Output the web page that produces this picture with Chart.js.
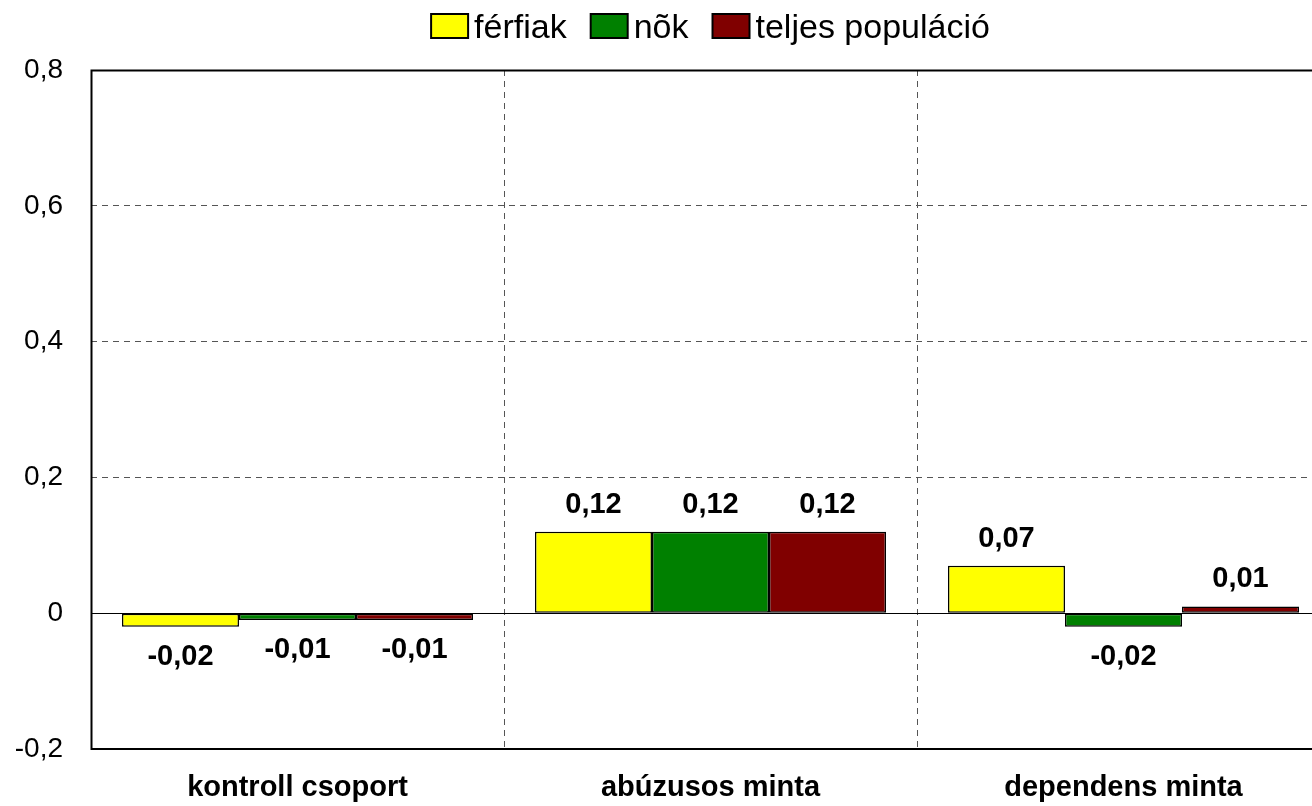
<!DOCTYPE html>
<html>
<head>
<meta charset="utf-8">
<script src="https://cdn.jsdelivr.net/npm/chart.js@4/dist/chart.umd.min.js"></script>
<style>
html,body{margin:0;padding:0;background:#fff;overflow:hidden;}
#wrap{position:absolute;left:0;top:0;width:1330px;height:806px;}
</style>
</head>
<body>
<div id="wrap"><canvas id="c"></canvas></div>
<script>
const categories = ['kontroll csoport', 'abúzusos minta', 'dependens minta'];
const seriesNames = ['férfiak', 'nõk', 'teljes populáció'];
const ferfiak = [-0.02, 0.12, 0.07];
const nok = [-0.01, 0.12, -0.02];
const teljes = [-0.01, 0.12, 0.01];
const yTicks = [-0.2, 0, 0.2, 0.4, 0.6, 0.8];
const colors = ['#FFFF00', '#008000', '#800000'];

const FONT = '"Liberation Sans", Arial, sans-serif';
const fmt = v => {
  const r = Math.round(v * 100) / 100;
  if (r === 0) return '0';
  const s = Math.round(Math.abs(r) * 100) % 10 === 0 ? r.toFixed(1) : r.toFixed(2);
  return s.replace('.', ',');
};

const frameAndLabels = {
  id: 'frameAndLabels',
  beforeDatasetsDraw(chart) {
    const {ctx, chartArea: a, scales: {y}} = chart;
    ctx.save();
    ctx.strokeStyle = '#000';
    ctx.setLineDash([]);
    ctx.lineWidth = 1.2;
    const z = Math.round(y.getPixelForValue(0)) + 0.5;
    ctx.beginPath(); ctx.moveTo(a.left, z); ctx.lineTo(a.right, z); ctx.stroke();
    ctx.restore();
  },
  afterDatasetsDraw(chart) {
    const {ctx, chartArea: a} = chart;
    ctx.save();
    ctx.font = 'bold 29px ' + FONT;
    ctx.fillStyle = '#000';
    ctx.textAlign = 'center';
    ctx.textBaseline = 'alphabetic';
    chart.data.datasets.forEach((ds, i) => {
      const meta = chart.getDatasetMeta(i);
      meta.data.forEach((el, j) => {
        const v = ds.data[j];
        const yy = v >= 0 ? el.y - 19 : el.y + 38;
        ctx.fillText(fmt(v), el.x, yy);
      });
    });
    ctx.strokeStyle = '#000';
    ctx.lineWidth = 2;
    ctx.beginPath();
    ctx.moveTo(a.right, a.top + 0.5);
    ctx.lineTo(a.left + 0.5, a.top + 0.5);
    ctx.lineTo(a.left + 0.5, a.bottom);
    ctx.lineTo(a.right, a.bottom);
    ctx.stroke();
    ctx.restore();
  }
};

const customLegend = {
  id: 'customLegend',
  afterDraw(chart) {
    const {ctx, chartArea: a} = chart;
    ctx.save();
    ctx.font = '34px ' + FONT;
    const boxW = 37, boxH = 24, gap = 6, spacing = 24;
    const items = chart.data.datasets.map(ds => ({
      text: ds.label, color: ds.backgroundColor, w: ctx.measureText(ds.label).width
    }));
    const total = items.reduce((s, it) => s + boxW + gap + it.w, 0) + spacing * (items.length - 1);
    let x = (a.left + a.right) / 2 - total / 2;
    items.forEach(it => {
      ctx.fillStyle = it.color;
      ctx.fillRect(x, 14, boxW, boxH);
      ctx.strokeStyle = '#000';
      ctx.lineWidth = 2;
      ctx.strokeRect(x, 14, boxW, boxH);
      ctx.fillStyle = '#000';
      ctx.textBaseline = 'alphabetic';
      ctx.textAlign = 'left';
      ctx.fillText(it.text, x + boxW + gap, 38);
      x += boxW + gap + it.w + spacing;
    });
    ctx.restore();
  }
};

new Chart(document.getElementById('c'), {
  type: 'bar',
  data: {
    labels: categories,
    datasets: [
      {label: seriesNames[0], data: ferfiak, backgroundColor: colors[0]},
      {label: seriesNames[1], data: nok, backgroundColor: colors[1]},
      {label: seriesNames[2], data: teljes, backgroundColor: colors[2]}
    ].map(d => Object.assign(d, {borderColor: '#000', borderWidth: 1.5, borderSkipped: false,
      categoryPercentage: 0.85, barPercentage: 1.0}))
  },
  options: {
    responsive: true,
    maintainAspectRatio: false,
    animation: false,
    layout: {padding: {top: 70, right: 0, bottom: 0, left: 0}},
    plugins: {legend: {display: false}, tooltip: {enabled: false}},
    scales: {
      x: {
        offset: true,
        grid: {
          offset: true, drawTicks: false,
          color: ctx => (ctx.index === 0 ? 'rgba(0,0,0,0)' : '#555'),
          lineWidth: 1
        },
        border: {display: false, dash: [6, 5]},
        ticks: {color: '#000', font: {family: FONT, size: 29, weight: 'bold'}, padding: 22, maxRotation: 0},
        afterFit: s => { s.height = 57; }
      },
      y: {
        min: -0.2, max: 0.8,
        afterBuildTicks: s => { s.ticks = yTicks.map(v => ({value: v})); },
        grid: {
          drawTicks: false,
          color: ctx => {
            const v = ctx.tick ? Math.round(ctx.tick.value * 10) / 10 : null;
            return (v === 0.2 || v === 0.4 || v === 0.6) ? '#555' : 'rgba(0,0,0,0)';
          },
          lineWidth: 1
        },
        border: {display: false, dash: [6, 5]},
        ticks: {
          color: '#000', font: {family: FONT, size: 28}, padding: 28,
          callback: v => fmt(v)
        },
        afterFit: s => { s.width = 91; }
      }
    }
  },
  plugins: [frameAndLabels, customLegend]
});
</script>
</body>
</html>
